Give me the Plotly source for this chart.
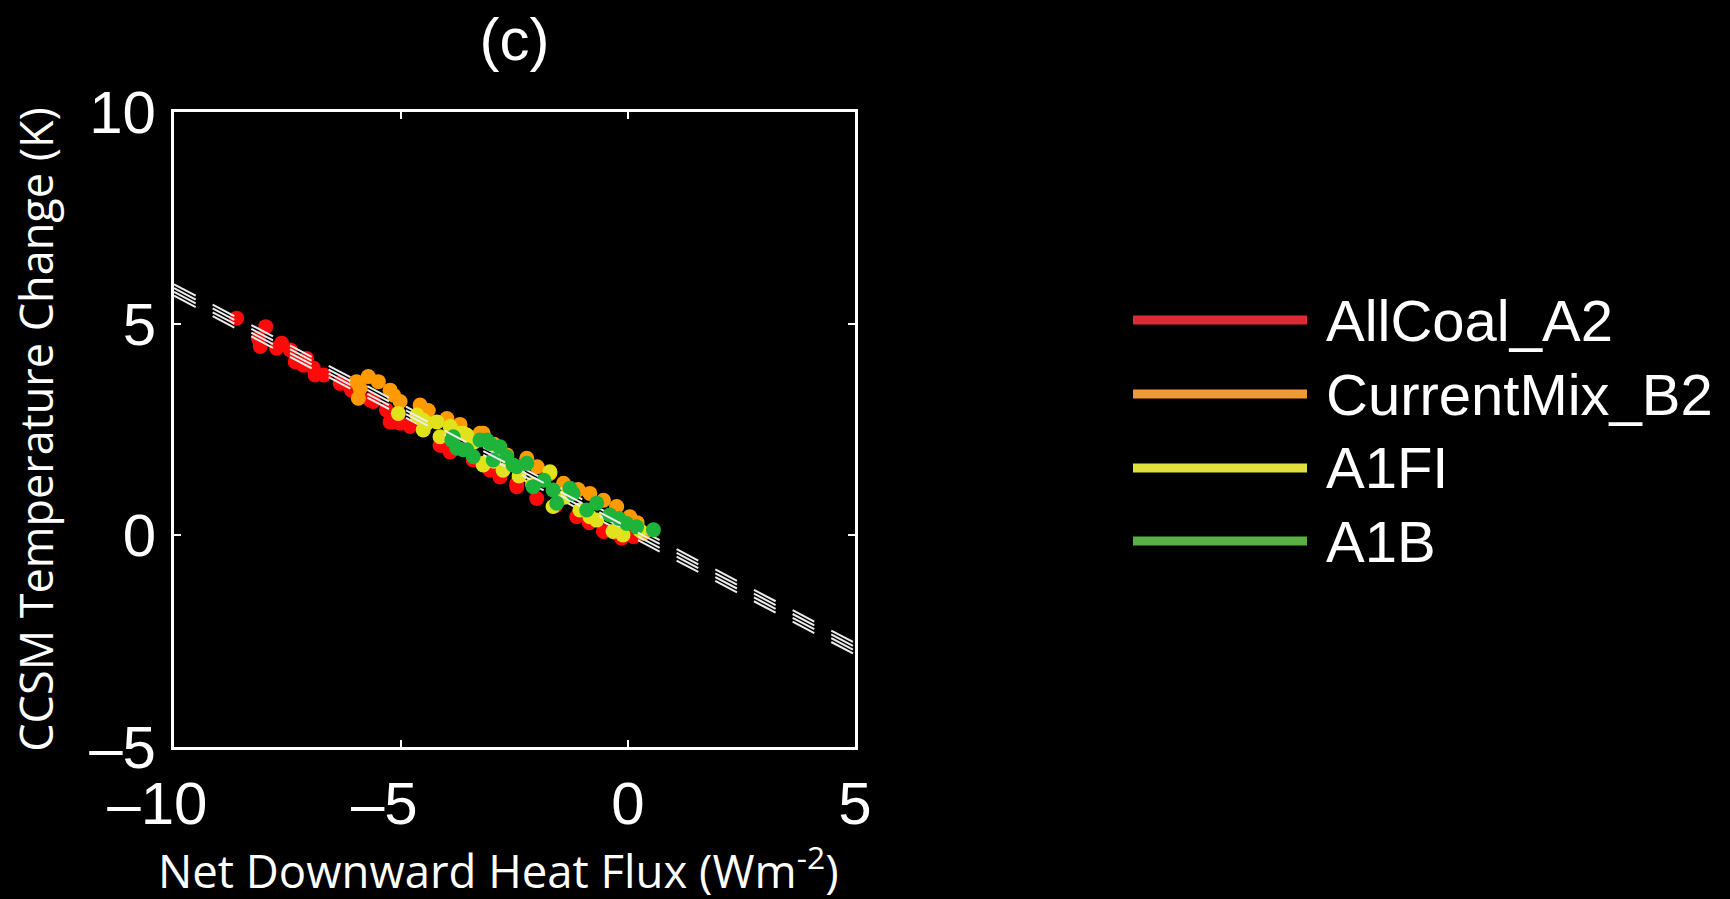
import plotly.graph_objects as go
import numpy as np

# ---------------- data ----------------
series_names = ["AllCoal_A2", "CurrentMix_B2", "A1FI", "A1B"]

allcoal_x = [-8.62, -7.98, -8.14, -8.10, -7.63, -7.74, -7.44, -7.33, -7.15, -7.08,
             -6.93, -6.89, -6.70, -6.34, -6.12, -6.09, -5.68, -5.61, -5.32, -5.24,
             -5.21, -5.02, -4.80, -4.14, -4.10, -3.92, -3.41, -3.04, -2.82, -2.45,
             -2.45, -2.01, -1.60, -1.13, -0.85, -0.54, -0.25, -0.14, 0.12]
allcoal_y = [5.13, 4.93, 4.65, 4.46, 4.54, 4.42, 4.38, 4.10, 4.02, 4.18,
             3.95, 3.79, 3.79, 3.59, 3.51, 3.43, 3.20, 3.16, 2.96, 2.68,
             2.68, 2.65, 2.57, 2.13, 2.13, 1.97, 1.78, 1.54, 1.38, 1.23,
             1.15, 0.87, 0.70, 0.44, 0.30, 0.09, 0.05, -0.07, -0.03]

currentmix_x = [-5.98, -5.72, -5.50, -5.90, -5.94, -5.24, -5.16, -5.02, -4.58, -4.40,
                -3.99, -3.70, -3.26, -3.19, -2.95, -2.67, -2.23, -2.00, -1.72, -1.42,
                -1.10, -0.84, -0.54, -0.25, 0.04, 0.20, 0.34]
currentmix_y = [3.63, 3.75, 3.63, 3.47, 3.24, 3.43, 3.31, 3.16, 3.08, 2.95,
                2.76, 2.62, 2.41, 2.41, 2.15, 1.90, 1.82, 1.62, 1.46, 1.23,
                1.08, 0.99, 0.83, 0.68, 0.44, 0.30, 0.05]

a1fi_x = [-5.06, -4.65, -4.51, -4.43, -4.51, -4.21, -4.14, -3.92, -3.77, -3.63,
          -3.55, -3.40, -3.19, -3.19, -2.95, -2.75, -2.40, -2.10, -1.72, -1.65,
          -1.40, -1.06, -0.84, -0.69, -0.33, -0.11, 0.26]
a1fi_y = [2.88, 2.84, 2.72, 2.65, 2.49, 2.68, 2.33, 2.57, 2.41, 2.41,
          2.37, 2.20, 1.70, 1.66, 1.75, 1.54, 1.40, 1.20, 1.50, 0.68,
          0.90, 0.60, 0.44, 0.36, 0.09, 0.01, 0.12]

a1b_x = [-3.88, -3.85, -3.77, -3.63, -3.55, -3.41, -3.26, -3.11, -3.04, -2.97,
         -2.82, -2.67, -2.53, -2.45, -2.23, -2.09, -1.85, -1.65, -1.57, -1.28,
         -1.21, -0.91, -0.69, -0.40, -0.20, -0.03, 0.19, 0.56]
a1b_y = [2.25, 2.33, 2.06, 2.02, 2.02, 1.86, 2.25, 2.25, 2.17, 1.78,
         2.09, 1.86, 1.66, 1.62, 1.70, 1.15, 1.30, 1.07, 0.76, 1.11,
         0.99, 0.60, 0.76, 0.48, 0.40, 0.28, 0.20, 0.13]

# regression lines (one per scenario)
fit_slope = [-0.565, -0.565, -0.565, -0.565]
fit_intercept = [0.01, 0.28, 0.10, 0.19]
fit_x = [-10, 5]

x_ticks = [-10, -5, 0, 5]
x_ticklabels = ["\u201310", "\u20135", "0", "5"]
y_ticks = [-5, 0, 5, 10]
y_ticklabels = ["\u20135", "0", "5", "10"]

x_title = "Net Downward Heat Flux (Wm<sup>-2</sup>)"
y_title = "CCSM Temperature Change (K)"
panel_title = "(c)"

# ---------------- styles ----------------
marker_colors = ["#ff0a0a", "#ff9a00", "#e2e21c", "#1eb43c"]
legend_colors = ["#dd2a36", "#ee9a36", "#dfe03e", "#5ab045"]

xs = [allcoal_x, currentmix_x, a1fi_x, a1b_x]
ys = [allcoal_y, currentmix_y, a1fi_y, a1b_y]

fig = go.Figure()
for i, name in enumerate(series_names):
    fig.add_trace(go.Scatter(
        x=xs[i], y=ys[i], mode="markers", name=name,
        marker=dict(size=15, color=marker_colors[i], line=dict(width=0)),
        showlegend=False, hoverinfo="skip"))
    lx = np.array(fit_x, dtype=float)
    ly = fit_slope[i] * lx + fit_intercept[i]
    fig.add_trace(go.Scatter(
        x=lx, y=ly, mode="lines", name=name + " fit",
        line=dict(color="#ececec", width=2, dash="24.5px,19.2px"),
        showlegend=False, hoverinfo="skip"))

W, H = 1730, 899
L, R, T, B = 174, 855, 112, 747

def px2paper_x(px):
    return (px - L) / (R - L)

def px2paper_y(py):
    return (B - py) / (B - T)

shapes = []
annotations = []
legend_y_px = [320, 394, 468, 541]
for i, name in enumerate(series_names):
    yy = px2paper_y(legend_y_px[i])
    shapes.append(dict(type="line", xref="paper", yref="paper",
                       x0=px2paper_x(1133), x1=px2paper_x(1307), y0=yy, y1=yy,
                       line=dict(color=legend_colors[i], width=9)))
    annotations.append(dict(xref="paper", yref="paper", x=px2paper_x(1324), y=yy,
                            text=name, showarrow=False, xanchor="left", yanchor="middle",
                            font=dict(family="Liberation Sans", size=58, color="white")))

# x-axis title (placed slightly left of the axis centre, as in the reference)
annotations.append(dict(xref="paper", yref="paper", x=px2paper_x(498), y=px2paper_y(868),
                        text=x_title, showarrow=False, xanchor="center", yanchor="middle",
                        font=dict(family="Open Sans", size=45.5, color="white")))

axis_common = dict(
    showgrid=False, zeroline=False, showline=True, linecolor="white", linewidth=3,
    mirror="allticks", ticks="inside", ticklen=7, tickwidth=1.5, tickcolor="white",
    tickfont=dict(family="Liberation Sans", size=60, color="white"),
    automargin=False,
)

fig.update_layout(
    width=W, height=H, autosize=False,
    margin=dict(l=L, r=W - R, t=T, b=H - B, pad=0),
    paper_bgcolor="black", plot_bgcolor="black",
    showlegend=False,
    title=dict(text=panel_title, x=0.5, xref="paper", xanchor="center",
               y=1 - 39 / H, yref="container", yanchor="middle",
               font=dict(family="Liberation Sans", size=60, color="white"),
               automargin=False),
    xaxis=dict(range=[-10, 5], tickvals=x_ticks,
               ticktext=[t + ("\u00a0\u00a0" if t.startswith("\u2013") else "") for t in x_ticklabels],
               ticklabelstandoff=2,
               **axis_common),
    yaxis=dict(range=[-5, 10], tickvals=y_ticks, ticktext=y_ticklabels,
               ticklabelstandoff=3,
               title=dict(text="\u00a0" + y_title, standoff=22,
                          font=dict(family="Open Sans", size=45, color="white")),
               **axis_common),
    shapes=shapes,
    annotations=annotations,
)

fig.write_html("out.html")
